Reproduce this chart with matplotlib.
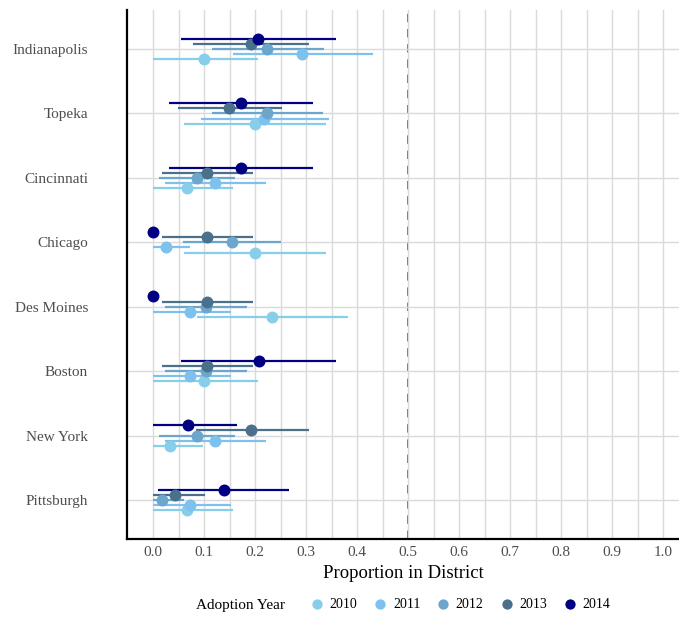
import matplotlib
matplotlib.use("Agg")
import matplotlib.pyplot as plt
import numpy as np
from matplotlib.lines import Line2D

plt.rcParams['font.family'] = ['Liberation Serif', 'DejaVu Serif']

cities = ["Indianapolis", "Topeka", "Cincinnati", "Chicago", "Des Moines",
          "Boston", "New York", "Pittsburgh"]
years = ["2010", "2011", "2012", "2013", "2014"]
colors = ["#87CEEB", "#7EC0EE", "#6CA6CD", "#4A708B", "#000080"]

est_2010 = [0.100, 0.200, 0.067, 0.200, 0.233, 0.100, 0.033, 0.067]
lo_2010 = [0.000, 0.060, 0.000, 0.060, 0.086, 0.000, 0.000, 0.000]
hi_2010 = [0.206, 0.340, 0.156, 0.340, 0.382, 0.206, 0.097, 0.156]

est_2011 = [0.292, 0.218, 0.122, 0.025, 0.0725, 0.0725, 0.122, 0.0725]
lo_2011 = [0.156, 0.095, 0.0235, 0.000, 0.000, 0.000, 0.0235, 0.000]
hi_2011 = [0.431, 0.345, 0.222, 0.0725, 0.152, 0.152, 0.222, 0.152]

est_2012 = [0.224, 0.2235, 0.087, 0.1555, 0.104, 0.104, 0.087, 0.017]
lo_2012 = [0.115, 0.115, 0.012, 0.0595, 0.0235, 0.0235, 0.012, 0.000]
hi_2012 = [0.335, 0.334, 0.161, 0.251, 0.184, 0.184, 0.161, 0.060]

est_2013 = [0.1915, 0.149, 0.1065, 0.1065, 0.1065, 0.1065, 0.193, 0.0425]
lo_2013 = [0.079, 0.048, 0.018, 0.018, 0.018, 0.018, 0.084, 0.000]
hi_2013 = [0.305, 0.252, 0.1955, 0.1955, 0.1955, 0.1955, 0.305, 0.101]

est_2014 = [0.2065, 0.1725, 0.1725, 0.000, 0.000, 0.207, 0.069, 0.139]
lo_2014 = [0.0556, 0.032, 0.032, 0.000, 0.000, 0.0556, 0.000, 0.009]
hi_2014 = [0.359, 0.314, 0.314, 0.000, 0.000, 0.359, 0.165, 0.267]

ests = [est_2010, est_2011, est_2012, est_2013, est_2014]
los = [lo_2010, lo_2011, lo_2012, lo_2013, lo_2014]
his = [hi_2010, hi_2011, hi_2012, hi_2013, hi_2014]

fig = plt.figure(figsize=(6.79, 6.17), dpi=100)
ax = fig.add_axes([127/679, 78/617, 1 - 127/679, (539-10)/617])

n = len(cities)
base = np.arange(n, 0, -1).astype(float)  # Indianapolis top
offsets = [-0.16, -0.08, 0.0, 0.08, 0.16]

# grid
ax.set_xticks(np.arange(0, 1.001, 0.1))
ax.set_xticks(np.arange(0.05, 1.0, 0.1), minor=True)
ax.grid(True, which='both', axis='x', color='#DADADA', linewidth=1.0, zorder=0)
ax.grid(True, which='major', axis='y', color='#DADADA', linewidth=1.0, zorder=0)
ax.axvline(0.5, color='#6E6E6E', linestyle=(0, (4.2, 3.4)), linewidth=1.44, zorder=1)

for i in range(5):
    y = base + offsets[i]
    ax.hlines(y, los[i], his[i], color=colors[i], linewidth=1.6, zorder=2)
for i in range(5):
    y = base + offsets[i]
    ax.plot(ests[i], y, 'o', color=colors[i], markersize=8.6,
            markeredgewidth=0, zorder=3)

ax.set_xlim(-0.051, 1.031)
ax.set_ylim(0.395, 8.605)
ax.set_yticks(base)
ax.set_yticklabels(cities)
ax.set_xticklabels([f"{v:.1f}" for v in np.arange(0, 1.001, 0.1)])
ax.tick_params(axis='both', which='both', length=0, colors='#4D4D4D', labelsize=11)
ax.tick_params(axis='y', pad=28)
ax.tick_params(axis='x', pad=5)

for s in ['top', 'right']:
    ax.spines[s].set_visible(False)
for s in ['left', 'bottom']:
    ax.spines[s].set_color('black')
    ax.spines[s].set_linewidth(1.6)

ax.set_xlabel("Proportion in District", fontsize=13.5, color='black', labelpad=4)

handles = [Line2D([], [], marker='o', linestyle='none', color=c,
                  markersize=7.4, markeredgewidth=0) for c in colors]
fig.text(196/679, 12/617, "Adoption Year", fontsize=11, va='center', ha='left')
leg = fig.legend(handles, years, loc='center left', bbox_to_anchor=(309/679, 12/617),
                 ncol=5, frameon=False, fontsize=10, handletextpad=0.3,
                 columnspacing=1.05, handlelength=1.2, borderpad=0, borderaxespad=0)

fig.savefig("out.png", dpi=100)
